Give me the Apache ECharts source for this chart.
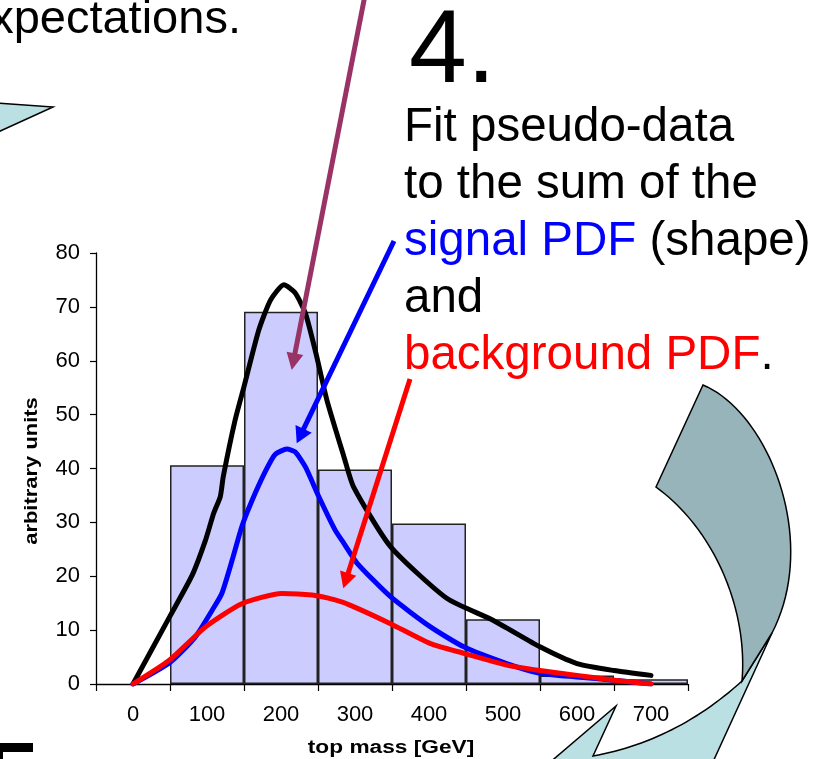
<!DOCTYPE html>
<html>
<head>
<meta charset="utf-8">
<script src="https://cdn.jsdelivr.net/npm/echarts@6/dist/echarts.min.js"></script>
<style>
  html, body { margin: 0; padding: 0; background: #fff; }
  #c { width: 820px; height: 759px; }
</style>
</head>
<body>
<div id="c"></div>
<script>
// Histogram of pseudo-data (top mass bins, GeV)
const massBins = ['0', '100', '200', '300', '400', '500', '600', '700'];
const binCounts = [null, 40.6, 69.1, 39.8, 29.8, 12.0, 1.6, 0.9];

// Total fit (signal + background)
const totalMass = [0, 50, 80, 98, 109, 118, 122, 138, 150, 170, 186, 204, 219, 233, 247, 262, 285, 298, 348, 424, 487, 550, 600, 650, 700];
const totalVals = [0, 12.6, 20.2, 26.7, 31.7, 34.8, 38.5, 49.0, 55.2, 65.7, 71.3, 74.1, 72.6, 68.8, 61.5, 52.7, 42.2, 36.6, 25.5, 15.9, 11.8, 6.9, 3.8, 2.5, 1.6];

// Signal PDF
const signalMass = [0, 50, 84, 107, 120, 134, 147, 161, 179, 192, 208, 219, 233, 251, 273, 285, 303, 348, 402, 447, 505, 550, 600, 650, 700];
const signalVals = [0, 4.0, 8.7, 13.7, 16.8, 23.0, 29.2, 34.1, 39.5, 42.6, 43.6, 43.1, 40.3, 34.8, 28.6, 26.1, 22.4, 16.2, 10.6, 6.9, 3.8, 2.0, 1.3, 0.7, 0];

// Background PDF
const backgroundMass = [0, 49, 98, 147, 201, 242, 273, 294, 348, 402, 447, 505, 550, 600, 650, 700];
const backgroundVals = [0, 4.4, 10.6, 14.9, 16.8, 16.5, 15.6, 14.6, 11.2, 7.5, 5.7, 3.5, 2.5, 1.6, 0.7, 0];

const yTicks = { min: 0, max: 80, step: 10 };

const FONT = '"Liberation Sans", Arial, Helvetica, sans-serif';
const zip = (xs, ys) => xs.map((x, i) => [x, ys[i]]);

// straight arrow with a triangular head
function arrow(x1, y1, tx, ty, color, w, headLen, headHalf) {
  const dx = tx - x1, dy = ty - y1, L = Math.hypot(dx, dy);
  const ux = dx / L, uy = dy / L, nx = -uy, ny = ux;
  const bx = tx - ux * headLen, by = ty - uy * headLen;
  return [
    { type: 'line', z: 100, shape: { x1: x1, y1: y1, x2: bx + ux * 2, y2: by + uy * 2 },
      style: { stroke: color, lineWidth: w } },
    { type: 'polygon', z: 100, shape: { points: [[tx, ty], [bx + nx * headHalf, by + ny * headHalf], [bx - nx * headHalf, by - ny * headHalf]] },
      style: { fill: color } }
  ];
}
function cubic(p0, p1, p2, p3, n) {
  const pts = [];
  for (let i = 0; i <= n; i++) {
    const t = i / n, u = 1 - t;
    pts.push([
      u * u * u * p0[0] + 3 * u * u * t * p1[0] + 3 * u * t * t * p2[0] + t * t * t * p3[0],
      u * u * u * p0[1] + 3 * u * u * t * p1[1] + 3 * u * t * t * p2[1] + t * t * t * p3[1]
    ]);
  }
  return pts;
}
function quad(p0, c, p1, n) {
  const pts = [];
  for (let i = 0; i <= n; i++) {
    const t = i / n, u = 1 - t;
    pts.push([u * u * p0[0] + 2 * u * t * c[0] + t * t * p1[0], u * u * p0[1] + 2 * u * t * c[1] + t * t * p1[1]]);
  }
  return pts;
}

// curved block arrow on the right
const darkPart = [].concat(
  cubic([703, 385], [768, 412], [820, 540], [772, 633], 40),
  [[742, 681]],
  cubic([742, 681], [748, 610], [715, 530], [656, 487], 40)
);
const lightPart = [].concat(
  [[772, 633], [742, 681]],
  quad([742, 681], [676, 741], [593, 756], 30),
  [[616, 706], [548, 764], [712, 764]]
);

// text placed by its baseline
const BASE = 0.30;
function txt(x, baseline, size, text, opts) {
  opts = opts || {};
  return {
    type: 'text', z: 100, x: x, y: baseline - BASE * size,
    scaleX: opts.scaleX || 1, rotation: opts.rotation || 0,
    style: Object.assign({
      text: text, x: 0, y: 0, fontSize: size, fontFamily: FONT,
      fontWeight: opts.bold ? 'bold' : 'normal',
      fill: opts.color || '#000', verticalAlign: 'middle', textAlign: opts.align || 'left'
    }, opts.rich ? { rich: opts.rich } : {})
  };
}
const BODY = 47.5;
const richColors = {
  k: { fill: '#000000', fontSize: BODY, fontFamily: FONT },
  b: { fill: '#0000FF', fontSize: BODY, fontFamily: FONT },
  r: { fill: '#FF0000', fontSize: BODY, fontFamily: FONT }
};

const graphics = [
  // left partial block arrow
  { type: 'polygon', z: 100, shape: { points: [[-2, 103], [53, 107], [-2, 132]] },
    style: { fill: '#BBE0E3', stroke: '#000', lineWidth: 1.5 } },
  // bottom-left dark bar
  { type: 'rect', z: 100, shape: { x: 0, y: 743, width: 33, height: 9 }, style: { fill: '#000' } },
  { type: 'rect', z: 100, shape: { x: 0, y: 751, width: 3, height: 9 }, style: { fill: '#000' } },
  { type: 'polygon', z: 100, shape: { points: lightPart }, style: { fill: '#BBE0E3', stroke: '#000', lineWidth: 1.5 } },
  { type: 'polygon', z: 100, shape: { points: darkPart }, style: { fill: '#96B4B9', stroke: '#000', lineWidth: 1.5 } },

  txt(-36, 34, 47, 'expectations.'),
  txt(409, 85, 104, '4.'),
  txt(404, 142, BODY, 'Fit pseudo-data'),
  txt(404, 199, BODY, 'to the sum of the'),
  txt(404, 256, BODY, '{b|signal PDF}{k| (shape)}', { rich: richColors }),
  txt(404, 313, BODY, 'and'),
  txt(404, 370, BODY, '{r|background PDF}{k|.}', { rich: richColors }),

  // axis titles
  txt(391, 753, 18, 'top mass [GeV]', { bold: true, align: 'center', scaleX: 1.26 }),
  {
    type: 'text', z: 100, x: 32, y: 471, rotation: Math.PI / 2, scaleX: 1.22,
    style: { text: 'arbitrary units', x: 0, y: 0, fontSize: 18, fontFamily: FONT, fontWeight: 'bold',
      fill: '#000', textAlign: 'center', verticalAlign: 'middle' }
  }
].concat(
  arrow(366, -10, 291.7, 370, '#993366', 5, 17, 8.5),
  arrow(394, 241, 296.7, 443.3, '#0000FF', 5, 16, 9),
  arrow(410, 379, 343.3, 588.3, '#FF0000', 5, 16, 8.5)
);

const chart = echarts.init(document.getElementById('c'), null, { renderer: 'canvas' });
chart.setOption({
  animation: false,
  backgroundColor: '#ffffff',
  grid: { left: 96, right: 132, top: 253, bottom: 75, containLabel: false, outerBoundsMode: 'none' },
  xAxis: [
    {
      type: 'category', data: massBins, boundaryGap: true,
      axisLine: { onZero: true, lineStyle: { color: '#000', width: 1.3 } },
      axisTick: { show: true, length: 7, lineStyle: { color: '#000', width: 1.2 } },
      axisLabel: { color: '#000', fontSize: 22, fontFamily: FONT, margin: 20, interval: 0 },
      splitLine: { show: false }
    },
    { type: 'value', min: -50, max: 750, show: false }
  ],
  yAxis: {
    type: 'value', min: yTicks.min, max: yTicks.max, interval: yTicks.step,
    axisLine: { show: true, onZero: false, lineStyle: { color: '#000', width: 1.3 } },
    axisTick: { show: true, length: 6, lineStyle: { color: '#000', width: 1.2 } },
    axisLabel: { color: '#000', fontSize: 22, fontFamily: FONT, margin: 16 },
    splitLine: { show: false }
  },
  series: [
    {
      type: 'bar', data: binCounts, barCategoryGap: '0%', barGap: '0%',
      itemStyle: { color: '#CCCCFF', borderColor: '#222', borderWidth: 1.5 },
      z: 2
    },
    {
      type: 'line', xAxisIndex: 1, data: zip(totalMass, totalVals), showSymbol: false, smooth: 0.2,
      lineStyle: { color: '#000000', width: 5, cap: 'round', join: 'round' }, z: 3
    },
    {
      type: 'line', xAxisIndex: 1, data: zip(signalMass, signalVals), showSymbol: false, smooth: 0.2,
      lineStyle: { color: '#0000FF', width: 5, cap: 'round', join: 'round' }, z: 4
    },
    {
      type: 'line', xAxisIndex: 1, data: zip(backgroundMass, backgroundVals), showSymbol: false, smooth: 0.2,
      lineStyle: { color: '#FF0000', width: 5, cap: 'round', join: 'round' }, z: 5
    }
  ],
  graphic: graphics
});
</script>
</body>
</html>
